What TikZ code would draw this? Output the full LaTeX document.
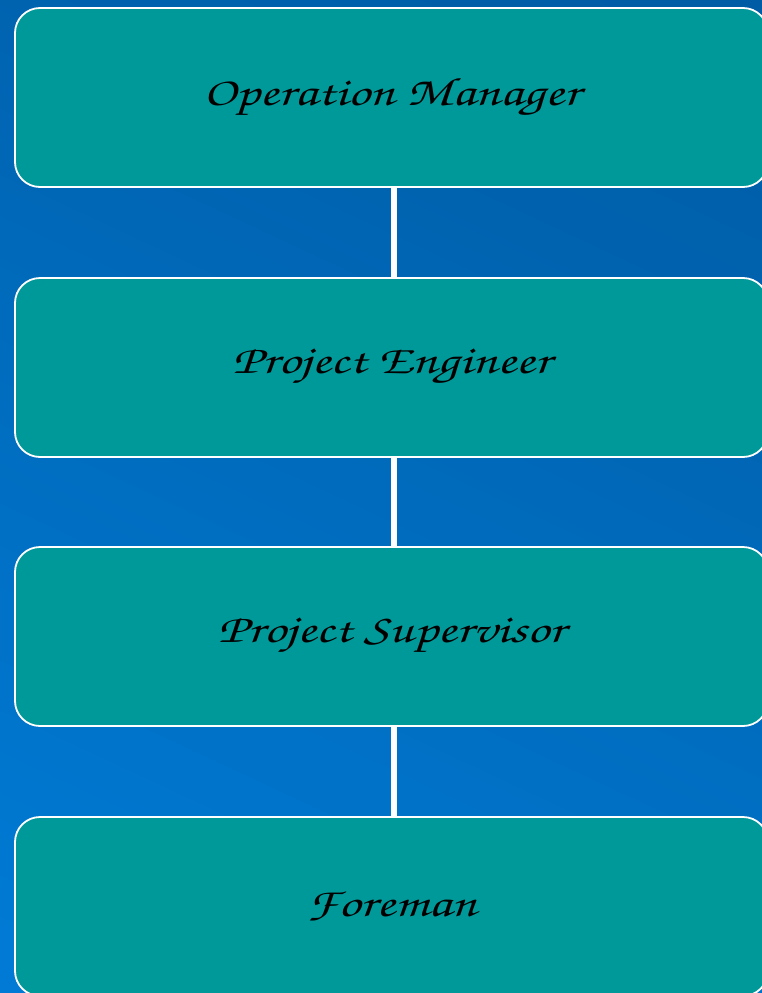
\documentclass[tikz,border=0pt]{standalone}
\usepackage[T1]{fontenc}
\definecolor{bgtop}{RGB}{0,92,165}
\definecolor{bgbot}{RGB}{0,122,212}
\definecolor{boxteal}{RGB}{0,153,153}
\newcommand{\handtext}[1]{\scalebox{1.36}[1]{#1}}
\tikzset{
  orgbox/.style={draw=white, line width=1.8pt, fill=boxteal, rounded corners=25pt,
    minimum width=753pt, minimum height=179pt, inner sep=0pt,
    font=\fontfamily{pzc}\fontsize{40}{46}\selectfont, text=black},
  link/.style={draw=white, line width=6pt}
}
\begin{document}
\begin{tikzpicture}[x=1pt,y=-1pt]
\useasboundingbox (0,0) rectangle (762,993);
\clip (0,0) rectangle (762,993);
\shade[top color=bgtop, bottom color=bgbot, shading angle=-25] (-100,-100) rectangle (862,1093);
\node[orgbox] (b1) at (391.5,97.5) {\handtext{Operation Manager}};
\node[orgbox] (b2) at (391.5,367.5) {\handtext{Project Engineer}};
\node[orgbox] (b3) at (391.5,636.5) {\handtext{Project Supervisor}};
\node[orgbox] (b4) at (391.5,906.5) {\handtext{Foreman}};
\draw[link] ([xshift=2.5pt]b1.south) -- ([xshift=2.5pt]b2.north);
\draw[link] ([xshift=2.5pt]b2.south) -- ([xshift=2.5pt]b3.north);
\draw[link] ([xshift=2.5pt]b3.south) -- ([xshift=2.5pt]b4.north);
\end{tikzpicture}
\end{document}
